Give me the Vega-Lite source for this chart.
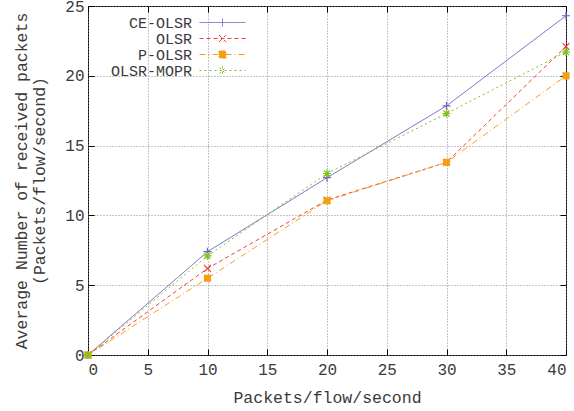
{
  "$schema": "https://vega.github.io/schema/vega-lite/v6.json",
  "autosize": "none",
  "width": 478,
  "height": 349,
  "padding": {"left": 88, "top": 6, "right": 8, "bottom": 56},
  "background": "white",
  "config": {
    "font": "Liberation Mono",
    "view": {"stroke": "#000000", "strokeWidth": 1},
    "axis": {
      "labelFont": "Liberation Mono",
      "titleFont": "Liberation Mono",
      "labelFontSize": 16,
      "titleFontSize": 16.5,
      "labelColor": "#3a3a3a",
      "titleColor": "#3a3a3a",
      "titleFontWeight": "normal",
      "domain": false,
      "tickColor": "#000000",
      "tickSize": -6,
      "gridColor": "#8a8a8a",
      "gridDash": [1, 2],
      "gridOpacity": 1,
      "gridWidth": 1
    },
    "legend": {
      "labelFont": "Liberation Mono",
      "labelFontSize": 15,
      "labelColor": "#3a3a3a"
    }
  },
  "data": {
    "values": [
      {"rate": 0, "avg": 0, "proto": "CE-OLSR"},
      {"rate": 10, "avg": 7.4, "proto": "CE-OLSR"},
      {"rate": 20, "avg": 12.7, "proto": "CE-OLSR"},
      {"rate": 30, "avg": 17.85, "proto": "CE-OLSR"},
      {"rate": 40, "avg": 24.3, "proto": "CE-OLSR"},
      {"rate": 0, "avg": 0, "proto": "OLSR"},
      {"rate": 10, "avg": 6.2, "proto": "OLSR"},
      {"rate": 20, "avg": 11.1, "proto": "OLSR"},
      {"rate": 30, "avg": 13.8, "proto": "OLSR"},
      {"rate": 40, "avg": 22.1, "proto": "OLSR"},
      {"rate": 0, "avg": 0, "proto": "P-OLSR"},
      {"rate": 10, "avg": 5.5, "proto": "P-OLSR"},
      {"rate": 20, "avg": 11.05, "proto": "P-OLSR"},
      {"rate": 30, "avg": 13.8, "proto": "P-OLSR"},
      {"rate": 40, "avg": 20.0, "proto": "P-OLSR"},
      {"rate": 0, "avg": 0, "proto": "OLSR-MOPR"},
      {"rate": 10, "avg": 7.1, "proto": "OLSR-MOPR"},
      {"rate": 20, "avg": 13.0, "proto": "OLSR-MOPR"},
      {"rate": 30, "avg": 17.3, "proto": "OLSR-MOPR"},
      {"rate": 40, "avg": 21.7, "proto": "OLSR-MOPR"}
    ]
  },
  "resolve": {"axis": {"x": "independent", "y": "independent"}},
  "layer": [
    {
      "mark": {"type": "line", "strokeWidth": 1},
      "encoding": {
        "x": {
          "field": "rate", "type": "quantitative",
          "scale": {"domain": [0, 40], "nice": false},
          "axis": {"title": "Packets/flow/second", "values": [0, 5, 10, 15, 20, 25, 30, 35, 40], "labelPadding": 12, "titlePadding": 12, "grid": true}
        },
        "y": {
          "field": "avg", "type": "quantitative",
          "scale": {"domain": [0, 25], "nice": false},
          "axis": {"title": ["Average Number of received packets", "(Packets/flow/second)"], "values": [0, 5, 10, 15, 20, 25], "labelPadding": 10, "titlePadding": 17, "titleLineHeight": 18, "grid": true}
        },
        "stroke": {
          "field": "proto", "type": "nominal",
          "scale": {"domain": ["CE-OLSR", "OLSR", "P-OLSR", "OLSR-MOPR"], "range": ["#7060c4", "#ee4433", "#f5a014", "#7cc41c"]},
          "legend": {
            "title": null,
            "orient": "none",
            "legendX": 127,
            "legendY": 9,
            "padding": 0,
            "symbolSize": 100,
            "symbolStrokeWidth": 1,
            "labelAlign": "right",
            "labelOffset": -38,
            "rowPadding": 0,
            "encode": {
              "symbols": {
                "update": {
                  "shape": {"signal": "datum.value === 'CE-OLSR' ? 'M-4.6,0H4.6M0,-0.8V0.8' : datum.value === 'OLSR' ? 'M-4.6,0H4.6M-0.7,-0.7L0.7,0.7M-0.7,0.7L0.7,-0.7' : datum.value === 'P-OLSR' ? 'M-4.6,0H4.6M-0.7,-0.7H0.7V0.7H-0.7Z' : 'M-4.6,0H4.6M0,-0.8V0.8M-0.6,-0.6L0.6,0.6M-0.6,0.6L0.6,-0.6'"},
                  "strokeDash": {"signal": "datum.value === 'CE-OLSR' ? [] : datum.value === 'OLSR' ? [4, 3] : datum.value === 'P-OLSR' ? [6, 3, 1, 3] : [2, 3]"},
                  "fill": {"signal": "datum.value === 'P-OLSR' ? '#f5a014' : 'transparent'"}
                }
              }
            }
          }
        },
        "strokeDash": {
          "field": "proto", "type": "nominal",
          "scale": {"domain": ["CE-OLSR", "OLSR", "P-OLSR", "OLSR-MOPR"], "range": [[1, 0], [4, 3], [6, 3, 1, 3], [2, 3]]},
          "legend": null
        }
      }
    },
    {
      "transform": [{"filter": "datum.proto === 'CE-OLSR'"}],
      "mark": {"type": "point", "shape": "M-1,0H1M0,-1V1", "size": 64, "strokeWidth": 1.2, "filled": false, "opacity": 1, "color": "#7060c4"},
      "encoding": {
        "x": {
          "field": "rate", "type": "quantitative",
          "axis": {"orient": "top", "title": null, "labels": false, "grid": false, "values": [0, 5, 10, 15, 20, 25, 30, 35, 40]}
        },
        "y": {
          "field": "avg", "type": "quantitative",
          "axis": {"orient": "right", "title": null, "labels": false, "grid": false, "values": [0, 5, 10, 15, 20, 25]}
        }
      }
    },
    {
      "transform": [{"filter": "datum.proto === 'OLSR'"}],
      "mark": {"type": "point", "shape": "M-0.85,-0.85L0.85,0.85M-0.85,0.85L0.85,-0.85", "size": 64, "strokeWidth": 1.2, "filled": false, "opacity": 1, "color": "#ee4433"},
      "encoding": {
        "x": {"field": "rate", "type": "quantitative", "axis": null},
        "y": {"field": "avg", "type": "quantitative", "axis": null}
      }
    },
    {
      "transform": [{"filter": "datum.proto === 'P-OLSR'"}],
      "mark": {"type": "point", "shape": "M-0.9,-0.9H0.9V0.9H-0.9Z", "size": 64, "strokeWidth": 1, "filled": true, "opacity": 1, "color": "#f5a014"},
      "encoding": {
        "x": {"field": "rate", "type": "quantitative", "axis": null},
        "y": {"field": "avg", "type": "quantitative", "axis": null}
      }
    },
    {
      "transform": [{"filter": "datum.proto === 'OLSR-MOPR'"}],
      "mark": {"type": "point", "shape": "M-1,0H1M0,-1V1M-0.75,-0.75L0.75,0.75M-0.75,0.75L0.75,-0.75", "size": 64, "strokeWidth": 1.2, "filled": false, "opacity": 1, "color": "#7cc41c"},
      "encoding": {
        "x": {"field": "rate", "type": "quantitative", "axis": null},
        "y": {"field": "avg", "type": "quantitative", "axis": null}
      }
    }
  ]
}
